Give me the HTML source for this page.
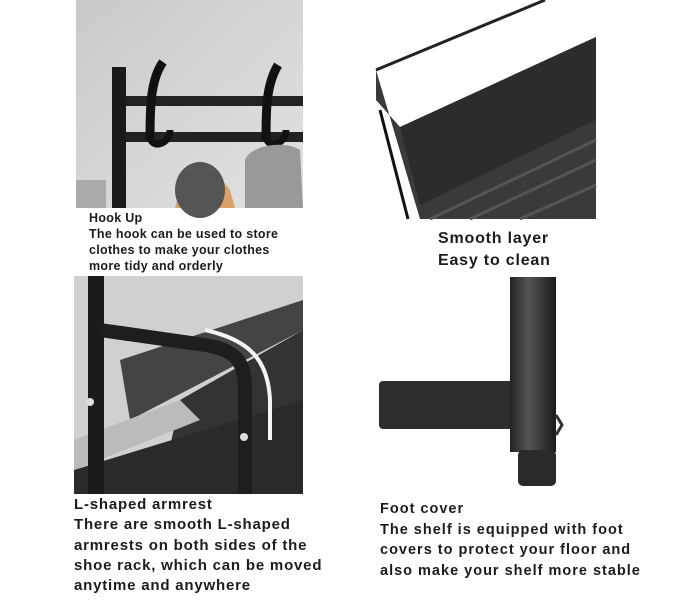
<!DOCTYPE html>
<html><head><style>
body{margin:0;width:700px;height:600px;background:#fff;position:relative;overflow:hidden;font-family:"Liberation Sans",sans-serif;color:#1c1c1c;font-weight:bold}
.t{position:absolute;white-space:nowrap}
svg{position:absolute;left:0;top:0}
</style></head><body>
<svg width="700" height="600">
<defs>
<linearGradient id="g1" x1="0" y1="0" x2="1" y2="1"><stop offset="0" stop-color="#c9c9c9"/><stop offset="1" stop-color="#e2e2e2"/></linearGradient>
<linearGradient id="g2" x1="0" y1="0" x2="1" y2="0"><stop offset="0" stop-color="#222"/><stop offset=".4" stop-color="#555"/><stop offset="1" stop-color="#1a1a1a"/></linearGradient>
</defs>
<rect x="76" y="0" width="227" height="208" fill="url(#g1)"/>
<rect x="112" y="67" width="14" height="141" fill="#1a1a1a"/>
<rect x="126" y="96" width="177" height="10" fill="#222"/>
<rect x="126" y="132" width="177" height="10" fill="#222"/>
<path d="M163 62 C150 80 150 110 150 140" stroke="#111" stroke-width="9" fill="none"/>
<path d="M278 65 C266 85 266 110 266 140" stroke="#111" stroke-width="9" fill="none"/>
<path d="M150 135 C150 150 170 145 170 130" stroke="#111" stroke-width="7" fill="none"/>
<path d="M266 135 C266 150 286 145 286 130" stroke="#111" stroke-width="7" fill="none"/>
<path d="M175 208 L182 185 L210 165 L230 190 L235 208Z" fill="#d9a06a"/>
<ellipse cx="200" cy="190" rx="25" ry="28" fill="#555"/>
<path d="M245 208 L245 160 C250 145 285 140 300 150 L303 208Z" fill="#999"/>
<rect x="76" y="180" width="30" height="28" fill="#aaa"/>
<rect x="376" y="0" width="220" height="219" fill="#fff"/>
<path d="M376 70 L545 0" stroke="#222" stroke-width="3"/>
<path d="M376 70 L376 100 L400 127 L596 37 L596 219 L420 219 Z" fill="#3a3a3a"/>
<path d="M400 127 L596 37 L596 120 L420 205 Z" fill="#2c2c2c"/>
<path d="M430 219 L596 140 M470 219 L596 160 M520 219 L596 185" stroke="#555" stroke-width="3"/>
<path d="M380 110 L408 219" stroke="#111" stroke-width="3"/>
<rect x="74" y="276" width="229" height="218" fill="#d0d0d0"/>
<path d="M180 400 L303 330 L303 494 L160 494 Z" fill="#333"/>
<path d="M120 360 L303 300 L303 330 L130 420 Z" fill="#444"/>
<path d="M74 470 L303 400 L303 494 L74 494Z" fill="#2a2a2a"/>
<path d="M74 440 L180 400 L200 420 L74 470Z" fill="#bbb"/>
<rect x="88" y="276" width="16" height="218" fill="#1b1b1b"/>
<path d="M100 330 L205 345 C235 350 245 360 245 390 L245 494" stroke="#1e1e1e" stroke-width="14" fill="none"/>
<path d="M205 330 C250 340 268 360 270 400 L270 440" stroke="#f4f4f4" stroke-width="4" fill="none"/>
<circle cx="90" cy="402" r="4" fill="#ddd"/><circle cx="244" cy="437" r="4" fill="#ddd"/>
<rect x="379" y="381" width="152" height="48" rx="4" fill="#2e2e2e"/>
<rect x="510" y="277" width="46" height="175" fill="url(#g2)"/>
<rect x="518" y="450" width="38" height="36" rx="5" fill="#2a2a2a"/>
<path d="M556 415 L562 425 L556 435" stroke="#333" stroke-width="3" fill="none"/>
</svg>
<div class="t" style="left:89px;top:210px;font-size:12.5px;line-height:16px;letter-spacing:0.3px">Hook Up<br>The hook can be used to store<br>clothes to make your clothes<br>more tidy and orderly</div>
<div class="t" style="left:438px;top:228px;font-size:16px;line-height:22px;letter-spacing:0.8px">Smooth layer<br>Easy to clean</div>
<div class="t" style="left:74px;top:495px;font-size:15px;line-height:20.3px;letter-spacing:0.8px">L-shaped armrest<br>There are smooth L-shaped<br>armrests on both sides of the<br>shoe rack, which can be moved<br>anytime and anywhere</div>
<div class="t" style="left:380px;top:499px;font-size:14.5px;line-height:20.5px;letter-spacing:1px">Foot cover<br>The shelf is equipped with foot<br>covers to protect your floor and<br>also make your shelf more stable</div>
</body></html>
